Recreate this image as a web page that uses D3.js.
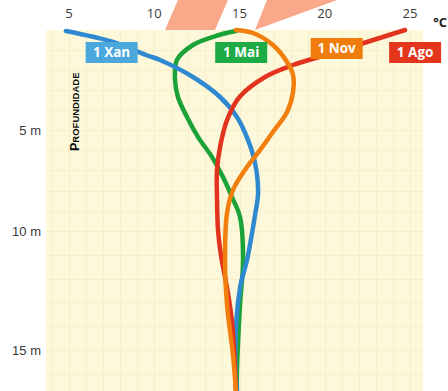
<!DOCTYPE html>
<html>
<head>
<meta charset="UTF-8">
<style>
body{margin:0;background:#fff;}
svg{display:block;font-family:"Liberation Sans",Arial,sans-serif;}
.tick-top{font-family:"Open Sans",sans-serif;font-size:13px;fill:#3a3a3a;}
.tick-left{font-size:13px;fill:#3a3a3a;}
.line{fill:none;stroke-width:4.5px;stroke-linecap:round;}
.tag{font-family:"Open Sans",sans-serif;font-size:13.5px;font-weight:bold;fill:#fff;}
</style>
</head>
<body>
<svg width="448" height="391"></svg>
<script src="https://cdn.jsdelivr.net/npm/d3@7/dist/d3.min.js"></script>
<script>
// top axis (temperature) and left axis (depth)
var tempTicks = [5, 10, 15, 20, 25];
var depthTicks = [5, 10, 15];

var seriesNames = ["1 Xan", "1 Mai", "1 Nov", "1 Ago"];
var lineColors = ["#2f89d1", "#1ba33a", "#f17e0d", "#e1331d"];
var tagColors = ["#4ca7dc", "#1dab45", "#f07c0c", "#e3361c"];

// temperature profiles (depth in m, temp in degC)
var xanDepth = [0.05, 0.6, 1.25, 1.5, 2.35, 3.35, 4.35, 5.5, 6.63, 8.12, 9.21, 11.22, 12.39, 15.21, 16.72];
var xanTemp  = [4.82, 7.58, 9.52, 10.34, 12.27, 13.86, 14.85, 15.5, 15.91, 16.09, 15.91, 15.44, 15.03, 14.74, 14.85];

var maiDepth = [0.05, 0.25, 0.75, 1.5, 2.5, 3.35, 4.35, 5.35, 6.34, 7.33, 8.32, 9.31, 11.22, 13.11, 15.92, 16.72];
var maiTemp  = [14.79, 13.8, 12.27, 11.33, 11.22, 11.39, 11.92, 12.57, 13.39, 14.03, 14.56, 15.03, 15.21, 15.03, 14.85, 14.85];

var novDepth = [0, 0.15, 0.75, 1.6, 2.25, 3.1, 4.1, 5.1, 6.0, 6.83, 7.97, 9.11, 11.22, 13.11, 15.21, 16.72];
var novTemp  = [14.79, 15.79, 16.96, 17.79, 18.14, 18.14, 17.79, 16.96, 16.2, 15.44, 14.62, 14.27, 14.15, 14.27, 14.62, 14.79];

var agoDepth = [0, 0.6, 1.15, 1.75, 2.35, 3.35, 4.5, 5.84, 6.98, 8.32, 9.95, 11.01, 12.39, 13.82, 16.72];
var agoTemp  = [24.71, 22.48, 20.48, 18.14, 16.5, 15.0, 14.27, 13.86, 13.68, 13.68, 13.74, 13.91, 14.27, 14.56, 14.79];

var profiles = [
  {depth: xanDepth, temp: xanTemp},
  {depth: maiDepth, temp: maiTemp},
  {depth: novDepth, temp: novTemp},
  {depth: agoDepth, temp: agoTemp}
];

var svg = d3.select("svg");

var x = d3.scaleLinear().domain([5, 25]).range([69, 410]);
// the source picture is stretched a bit towards the bottom
var y = d3.scaleLinear().domain([0, 5, 10, 15]).range([30, 130, 231, 350]);

var panel = {left: 46, right: 423, top: 30, bottom: 391};

// salmon rays above the panel
var rays = [
  [[10.63, 0], [13.56, 0], [14.33, -1.5], [11.39, -1.5]],
  [[15.91, 0], [16.61, -1.5], [20.72, -1.5]]
];
svg.selectAll(".ray")
  .data(rays)
  .enter().append("path")
    .attr("class", "ray")
    .attr("fill", "#f9a98a")
    .attr("d", function(d) {
      return "M" + d.map(function(p) { return x(p[0]) + "," + y(p[1]); }).join("L") + "Z";
    });

// panel background
svg.append("rect")
    .attr("x", panel.left)
    .attr("y", panel.top)
    .attr("width", panel.right - panel.left)
    .attr("height", panel.bottom - panel.top)
    .attr("fill", "#fdf8da");

var grid = svg.append("g").attr("stroke", "#f6efcb").attr("stroke-width", 1);
grid.selectAll(".gx")
  .data(d3.range(4, 26))
  .enter().append("line")
    .attr("x1", function(d) { return Math.round(x(d)) + 0.5; })
    .attr("x2", function(d) { return Math.round(x(d)) + 0.5; })
    .attr("y1", panel.top)
    .attr("y2", panel.bottom);
grid.selectAll(".gy")
  .data(d3.range(1, 18))
  .enter().append("line")
    .attr("x1", panel.left)
    .attr("x2", panel.right)
    .attr("y1", function(d) { return Math.round(y(d)) + 0.5; })
    .attr("y2", function(d) { return Math.round(y(d)) + 0.5; });

// axes labels
svg.selectAll(".tick-top")
  .data(tempTicks)
  .enter().append("text")
    .attr("class", "tick-top")
    .attr("x", function(d) { return x(d); })
    .attr("y", 18)
    .attr("text-anchor", "middle")
    .text(function(d) { return d; });

svg.append("text")
    .attr("x", 447)
    .attr("y", 27)
    .attr("text-anchor", "end")
    .style("font-family", "'Open Sans',sans-serif")
    .style("font-size", "13px")
    .style("font-weight", "bold")
    .attr("fill", "#222")
    .text("°C");

svg.selectAll(".tick-left")
  .data(depthTicks)
  .enter().append("text")
    .attr("class", "tick-left")
    .attr("x", 41)
    .attr("y", function(d) { return y(d); })
    .attr("dy", "0.35em")
    .attr("text-anchor", "end")
    .text(function(d) { return d + " m"; });

var axisTitle = svg.append("text")
    .attr("transform", "translate(79,151) rotate(-90)")
    .style("font-weight", "bold")
    .attr("fill", "#111");
axisTitle.append("tspan").style("font-size", "12.5px").text("P");
axisTitle.append("tspan").style("font-size", "9.5px").text("ROFUNDIDADE");

// profile lines
var line = d3.line()
    .curve(d3.curveCatmullRom.alpha(0.5))
    .x(function(d) { return x(d[1]); })
    .y(function(d) { return y(d[0]); });

var drawOrder = [1, 0, 3, 2];
svg.selectAll(".line")
  .data(drawOrder)
  .enter().append("path")
    .attr("class", "line")
    .attr("stroke", function(i) { return lineColors[i]; })
    .attr("d", function(i) {
      var p = profiles[i];
      return line(p.depth.map(function(dd, k) { return [dd, p.temp[k]]; }));
    });

// labels on coloured boxes
var tagPos = [[7.5, 1.15], [15.1, 1.15], [20.7, 0.95], [25.3, 1.15]];
var tag = svg.selectAll(".tagbox")
  .data(seriesNames)
  .enter().append("g")
    .attr("transform", function(d, i) {
      return "translate(" + (x(tagPos[i][0]) - 26) + "," + (y(tagPos[i][1]) - 11) + ")";
    });
tag.append("rect")
    .attr("width", 52)
    .attr("height", 21)
    .attr("fill", function(d, i) { return tagColors[i]; });
tag.append("text")
    .attr("class", "tag")
    .attr("x", 26)
    .attr("y", 15)
    .attr("text-anchor", "middle")
    .text(function(d) { return d; });
</script>
</body>
</html>
